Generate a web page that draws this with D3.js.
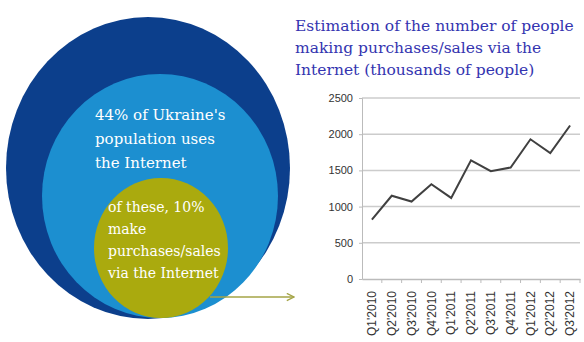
<!DOCTYPE html>
<html>
<head>
<meta charset="utf-8">
<script src="https://cdn.jsdelivr.net/npm/d3@7"></script>
<style>
  body { margin: 0; background: #fff; }
  svg { display: block; }
</style>
</head>
<body>
<div id="chart"></div>
<script>
// quarterly estimate, thousands of people
const quarters = ["Q1'2010", "Q2'2010", "Q3'2010", "Q4'2010", "Q1'2011", "Q2'2011",
  "Q3'2011", "Q4'2011", "Q1'2012", "Q2'2012", "Q3'2012"];
const buyers = [820, 1150, 1070, 1310, 1120, 1640, 1490, 1540, 1930, 1740, 2120];
const yTicks = [0, 500, 1000, 1500, 2000, 2500];

const titleLines = ["Estimation of the number of people", "making purchases/sales via the",
  "Internet (thousands of people)"];
const usersLines = ["44% of Ukraine's", "population uses", "the Internet"];
const buyersLines = ["of these, 10%", "make", "purchases/sales", "via the Internet"];

const W = 584, H = 342;
const svg = d3.select("#chart").append("svg")
  .attr("width", W)
  .attr("height", H);

// nested circles on the left
const circles = [
  { cx: 148, cy: 168, rx: 142, ry: 151, fill: "#0c3f8c" },
  { cx: 160, cy: 196, rx: 118, ry: 122, fill: "#1c8fd0" },
  { cx: 161, cy: 248, rx: 67, ry: 70, fill: "#aaaa0e" }
];
svg.selectAll("ellipse")
  .data(circles)
  .enter().append("ellipse")
  .attr("cx", d => d.cx)
  .attr("cy", d => d.cy)
  .attr("rx", d => d.rx)
  .attr("ry", d => d.ry)
  .attr("fill", d => d.fill);

const serif = "'DejaVu Serif', serif";

svg.append("g")
  .selectAll("text")
  .data(usersLines)
  .enter().append("text")
  .attr("x", 95)
  .attr("y", (d, i) => 120 + i * 24)
  .attr("fill", "#fff")
  .style("font-family", serif)
  .style("font-size", "15px")
  .text(d => d);

svg.append("g")
  .selectAll("text")
  .data(buyersLines)
  .enter().append("text")
  .attr("x", 108)
  .attr("y", (d, i) => 212 + i * 22)
  .attr("fill", "#fff")
  .style("font-family", serif)
  .style("font-size", "14px")
  .text(d => d);

// arrow towards the chart
svg.append("defs").append("marker")
  .attr("id", "head")
  .attr("viewBox", "0 0 10 10")
  .attr("refX", 9).attr("refY", 5)
  .attr("markerWidth", 6).attr("markerHeight", 6)
  .attr("orient", "auto")
  .append("path")
  .attr("d", "M1,1 L9,5 L1,9")
  .attr("fill", "none")
  .attr("stroke", "#a4a446")
  .attr("stroke-width", 1.5);

svg.append("line")
  .attr("x1", 210).attr("y1", 297)
  .attr("x2", 294).attr("y2", 297)
  .attr("stroke", "#a4a446")
  .attr("stroke-width", 1.5)
  .attr("marker-end", "url(#head)");

// title
svg.append("g")
  .selectAll("text")
  .data(titleLines)
  .enter().append("text")
  .attr("x", 295)
  .attr("y", (d, i) => 31 + i * 22)
  .attr("fill", "#3434b0")
  .style("font-family", serif)
  .style("font-size", "15.5px")
  .text(d => d);

// line chart
const plot = { left: 362, right: 580, top: 98, bottom: 279 };

const x = d3.scaleBand()
  .domain(quarters)
  .range([plot.left, plot.right]);

const y = d3.scaleLinear()
  .domain([0, 2500])
  .range([plot.bottom, plot.top]);

svg.append("g")
  .selectAll("line")
  .data(yTicks.slice(1))
  .enter().append("line")
  .attr("x1", plot.left)
  .attr("x2", plot.right)
  .attr("y1", d => y(d))
  .attr("y2", d => y(d))
  .attr("stroke", "#cccccc")
  .attr("stroke-width", 1.5);

const yAxis = svg.append("g")
  .attr("transform", `translate(${plot.left},0)`)
  .call(d3.axisLeft(y).tickValues(yTicks).tickFormat(d3.format("d")).tickSize(3).tickPadding(6));
yAxis.select(".domain").attr("stroke", "#bbbbbb");
yAxis.selectAll(".tick line").attr("stroke", "#bbbbbb");
yAxis.selectAll("text")
  .style("font-family", "'Liberation Sans', Arial, sans-serif")
  .style("font-size", "11px")
  .attr("fill", "#333");

const xAxis = svg.append("g")
  .attr("transform", `translate(0,${plot.bottom})`)
  .call(d3.axisBottom(x).tickSize(0).tickPadding(0).tickSizeOuter(0));
xAxis.select(".domain").attr("stroke", "#bbbbbb").attr("stroke-width", 1.5);
xAxis.selectAll(".tick text")
  .attr("transform", "rotate(-90)")
  .attr("x", -12)
  .attr("y", 0)
  .attr("dy", "0.35em")
  .style("text-anchor", "end")
  .style("font-family", "'Liberation Sans', Arial, sans-serif")
  .style("font-size", "12px")
  .attr("fill", "#333");

// small ticks at band boundaries
svg.append("g")
  .selectAll("line")
  .data(quarters)
  .enter().append("line")
  .attr("x1", d => x(d) + x.bandwidth())
  .attr("x2", d => x(d) + x.bandwidth())
  .attr("y1", plot.bottom)
  .attr("y2", plot.bottom + 4)
  .attr("stroke", "#bbbbbb");

const line = d3.line()
  .x((d, i) => x(quarters[i]) + x.bandwidth() / 2)
  .y(d => y(d));

svg.append("path")
  .datum(buyers)
  .attr("d", line)
  .attr("fill", "none")
  .attr("stroke", "#404040")
  .attr("stroke-width", 2);
</script>
</body>
</html>
